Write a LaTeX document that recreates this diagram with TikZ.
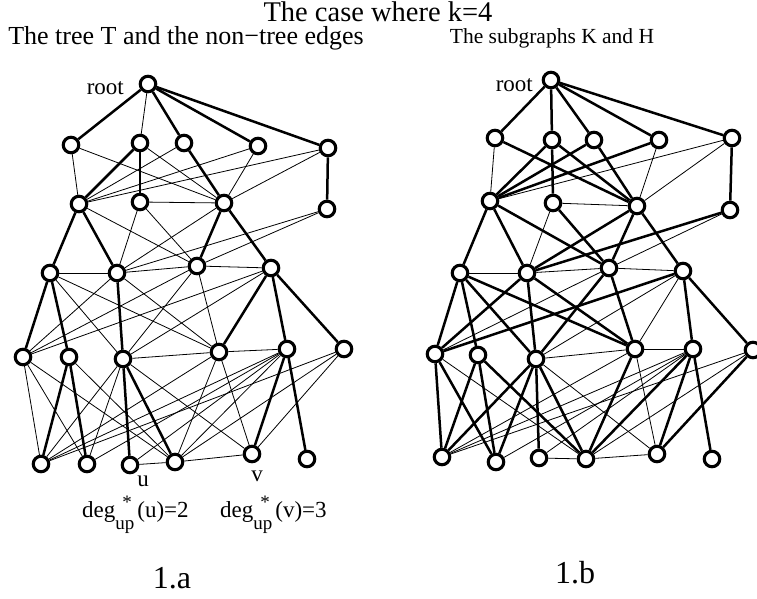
\documentclass[tikz,border=0pt]{standalone}
\usepackage{fontspec}
\setmainfont{Liberation Serif}
\begin{document}
\begin{tikzpicture}[x=1pt,y=-1pt,
  vtx/.style={circle,draw,line width=3.1pt,fill=white,minimum size=15.5pt,inner sep=0pt},
  te/.style={line width=2.5pt},
  ne/.style={line width=0.8pt},
  lbl/.style={inner sep=0pt,font=\fontsize{23}{26}\selectfont}]
\useasboundingbox (0,0) rectangle (757,599);
% titles
\node[inner sep=0pt,font=\fontsize{28.5}{32}\selectfont] (title) at (378,12) {The case where k=4};
\node[inner sep=0pt,font=\fontsize{26}{30}\selectfont] (stl) at (186,38) {The tree T and the non−tree edges};
\node[inner sep=0pt,font=\fontsize{21.5}{25}\selectfont] (str) at (552,38) {The subgraphs K and H};
% ---------- left graph nodes
\node[vtx] (lr) at (148,84) {};
\node[vtx] (la1) at (71,145) {};
\node[vtx] (la2) at (140,143) {};
\node[vtx] (la3) at (184,143) {};
\node[vtx] (la4) at (258,146) {};
\node[vtx] (la5) at (328,148) {};
\node[vtx] (lb1) at (79,204) {};
\node[vtx] (lb2) at (140,202) {};
\node[vtx] (lb3) at (224,203) {};
\node[vtx] (lb4) at (327,209) {};
\node[vtx] (lc1) at (50,273) {};
\node[vtx] (lc2) at (117,273) {};
\node[vtx] (lc3) at (197,266) {};
\node[vtx] (lc4) at (271,268) {};
\node[vtx] (ld1) at (23,357) {};
\node[vtx] (ld2) at (69,357) {};
\node[vtx] (ld3) at (123,359) {};
\node[vtx] (ld4) at (219,352) {};
\node[vtx] (ld5) at (287,349) {};
\node[vtx] (ld6) at (344,349) {};
\node[vtx] (le1) at (41,464) {};
\node[vtx] (le2) at (87,464) {};
\node[vtx] (le3) at (130,465) {};
\node[vtx] (le4) at (175,462) {};
\node[vtx] (le5) at (252,454) {};
\node[vtx] (le6) at (307,459) {};
% left thick (tree T)
\foreach \a/\b in {lr/la1,lr/la3,lr/la4,lr/la5,la2/lb1,la2/lb2,la3/lb3,la5/lb4,
  lb1/lc1,lb1/lc2,lb3/lc3,lb3/lc4,lc1/ld1,lc1/ld2,lc2/ld3,lc4/ld4,lc4/ld5,lc4/ld6,
  ld2/le1,ld2/le2,ld3/le3,ld3/le4,ld5/le5,ld5/le6}
  \draw[te] (\a) -- (\b);
% left thin (non-tree)
\foreach \a/\b in {lr/la2,la1/lb1,la1/lb3,la2/lb3,la3/lb1,la4/lb1,la4/lb3,la5/lb1,la5/lb3,lb2/lb3,
  lb1/lc3,lb2/lc2,lb2/lc3,lb3/lc2,lb4/lc2,lb4/lc3,lc1/lc2,lc2/lc3,lc3/lc4,
  lc1/ld3,lc1/ld4,lc2/ld1,lc2/ld4,lc3/ld1,lc3/ld3,lc3/ld4,lc4/ld1,lc4/ld3,ld3/ld4,ld4/ld5,
  ld1/le1,ld1/le2,ld1/le4,ld2/le4,ld3/le1,ld3/le2,ld3/le5,ld4/le1,ld4/le4,ld4/le5,
  ld5/le1,ld5/le2,ld5/le3,ld5/le4,ld6/le1,ld6/le4,ld6/le5,le3/le4,le4/le5}
  \draw[ne] (\a) -- (\b);
% ---------- right graph nodes
\node[vtx] (rr) at (551,80) {};
\node[vtx] (ra1) at (495,138) {};
\node[vtx] (ra2) at (552,140) {};
\node[vtx] (ra3) at (594,140) {};
\node[vtx] (ra4) at (659,140) {};
\node[vtx] (ra5) at (732,138) {};
\node[vtx] (rb1) at (490,201) {};
\node[vtx] (rb2) at (553,203) {};
\node[vtx] (rb3) at (637,206) {};
\node[vtx] (rb4) at (730,210) {};
\node[vtx] (rc1) at (460,273) {};
\node[vtx] (rc2) at (527,273) {};
\node[vtx] (rc3) at (609,268) {};
\node[vtx] (rc4) at (683,271) {};
\node[vtx] (rd1) at (435,354) {};
\node[vtx] (rd2) at (478,355) {};
\node[vtx] (rd3) at (536,359) {};
\node[vtx] (rd4) at (635,349) {};
\node[vtx] (rd5) at (693,349) {};
\node[vtx] (rd6) at (753,350) {};
\node[vtx] (re1) at (442,457) {};
\node[vtx] (re2) at (496,462) {};
\node[vtx] (re3) at (539,458) {};
\node[vtx] (re4) at (586,459) {};
\node[vtx] (re5) at (657,454) {};
\node[vtx] (re6) at (712,459) {};
% right thick (K and H)
\foreach \a/\b in {rr/ra1,rr/ra2,rr/ra3,rr/ra4,rr/ra5,ra1/rb3,ra2/rb1,ra2/rb2,ra2/rb3,ra3/rb1,ra3/rb3,ra4/rb1,ra5/rb4,
  rb1/rc1,rb1/rc2,rb1/rc3,rb2/rc3,rb3/rc2,rb3/rc3,rb3/rc4,rb4/rc2,
  rc1/rd1,rc1/rd2,rc1/rd3,rc1/rd4,rc2/rd1,rc2/rd3,rc2/rd4,rc3/rd3,rc3/rd4,rc4/rd1,rc4/rd5,rc4/rd6,
  rd1/re1,rd1/re2,rd2/re1,rd2/re2,rd3/re1,rd3/re2,rd3/re3,rd3/re4,rd4/re4,rd5/re5,rd5/re6,rd6/re5,
  rd2/re4,rd5/re4}
  \draw[te] (\a) -- (\b);
% right thin
\foreach \a/\b in {ra1/rb1,ra4/rb3,ra5/rb1,ra5/rb3,rb2/rb3,rb2/rc2,rb4/rc3,rc1/rc2,rc2/rc3,rc3/rc4,
  rc3/rd1,rc4/rd3,rc4/rd4,rd3/rd4,rd4/rd5,
  rd1/re4,rd3/re5,rd4/re1,rd4/re5,rd5/re1,rd5/re2,rd5/re3,rd6/re1,rd6/re4,re3/re4,re4/re5}
  \draw[ne] (\a) -- (\b);
% labels
\node[lbl,anchor=east] (rootl) at (124,88) {root};
\node[lbl,anchor=east] (rootr) at (533,85) {root};
\node[lbl] (ul) at (143,481) {u};
\node[lbl] (vl) at (257,476) {v};
\node[lbl,anchor=base west] (degu) at (82,517) {deg\rlap{\raisebox{9pt}{\fontsize{19}{19}\selectfont\hspace{7pt}*}}\raisebox{-12pt}{\fontsize{19}{19}\selectfont up}\hspace{3pt}(u)=2};
\node[lbl,anchor=base west] (degv) at (220,517) {deg\rlap{\raisebox{9pt}{\fontsize{19}{19}\selectfont\hspace{7pt}*}}\raisebox{-12pt}{\fontsize{19}{19}\selectfont up}\hspace{3pt}(v)=3};
\node[inner sep=0pt,font=\fontsize{32}{36}\selectfont] (capa) at (172,578) {1.a};
\node[inner sep=0pt,font=\fontsize{32}{36}\selectfont] (capb) at (575,573) {1.b};
\end{tikzpicture}
\end{document}
